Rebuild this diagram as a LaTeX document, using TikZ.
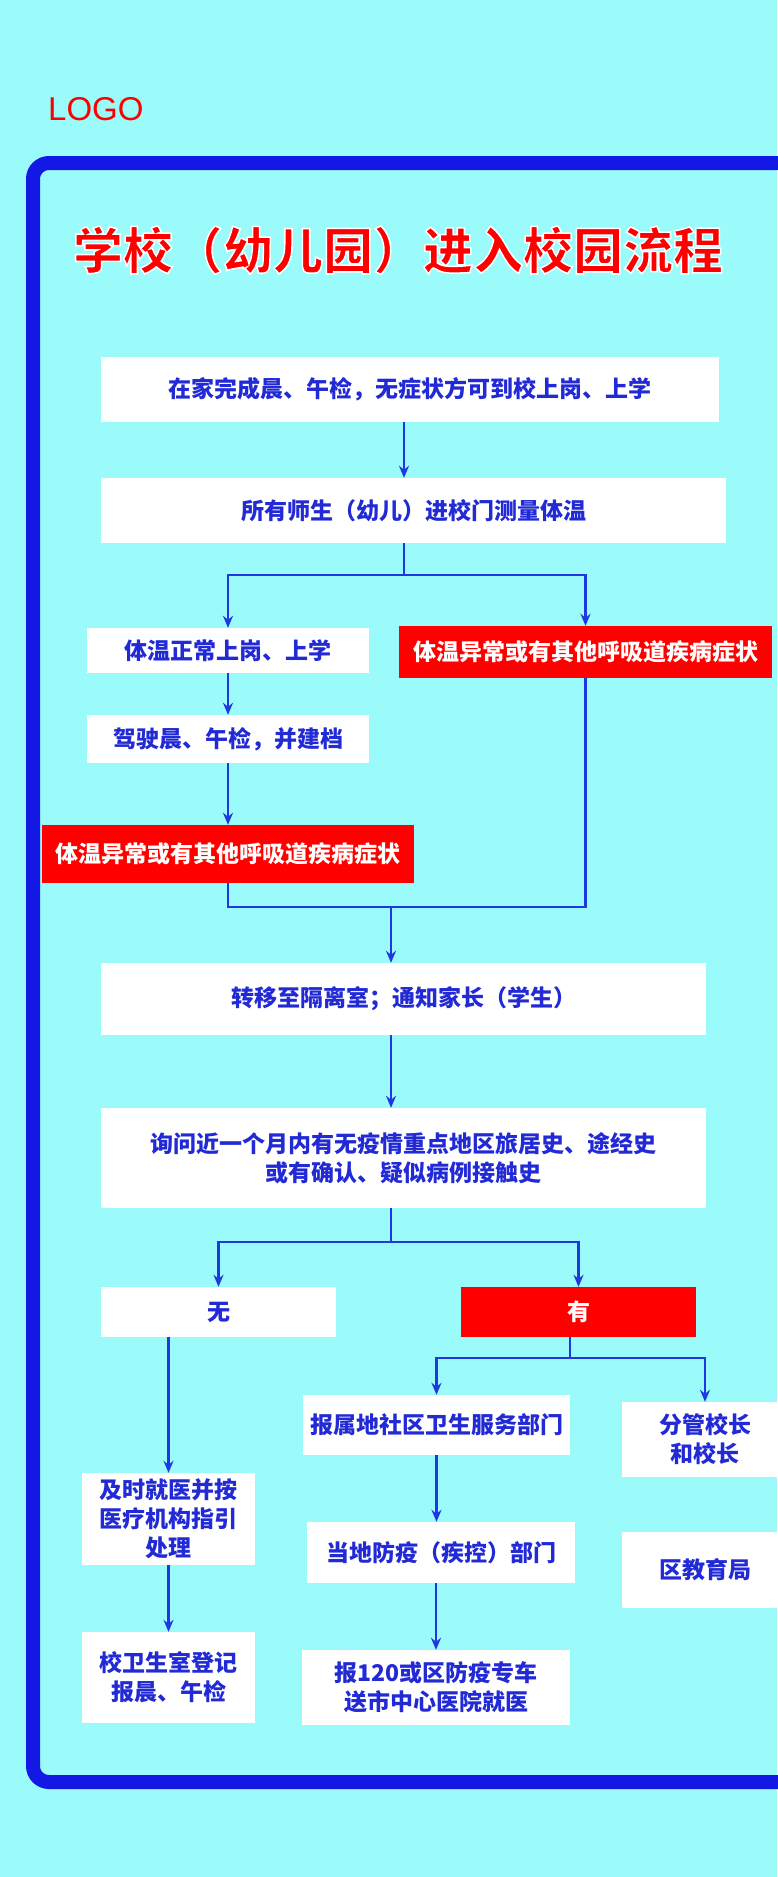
\documentclass[tikz,border=0pt]{standalone}
\usepackage{fontspec}
\setmainfont{Liberation Sans}
\newfontfamily\cjk{Noto Sans CJK SC}
\usepackage{xcolor}
\definecolor{bg}{RGB}{155,251,251}
\definecolor{rim}{RGB}{20,24,228}
\definecolor{ink}{RGB}{34,42,214}
\definecolor{wire}{RGB}{30,56,226}
\definecolor{alarm}{RGB}{255,0,0}
\usepackage{tikz}
\usetikzlibrary{arrows.meta}
\tikzstyle{box} = [
    rectangle, text centered, align=center,
    inner sep=0pt,
    font=\cjk\bfseries\fontsize{23}{29}\selectfont,
]
\tikzstyle{plain} = [
    box,
    fill=white,
    text=ink,
]
\tikzstyle{alert} = [
    box,
    fill=alarm,
    text=white,
]
\tikzstyle{heading} = [
    inner sep=0pt,
    font=\cjk\bfseries\fontsize{50}{60}\selectfont,
]
\tikzstyle{link} = [line width=2.5pt, draw=wire]
\tikzstyle{arrow} = [link, ->, >={Stealth[length=12pt,width=10pt]}]
% white rim round the heading glyphs
\newcommand{\rimtext}[1]{\special{pdf:literal q 2 Tr 1.5 w 1 1 1 RG}#1\special{pdf:literal Q}}

\begin{document}
\begin{tikzpicture}[x=1pt, y=-1pt]
    \useasboundingbox (0,0) rectangle (777,1877);
    \fill[bg] (0,0) rectangle (777,1877);

    % frame and heading
    \draw[rim, line width=14pt, rounded corners=16pt]
        (830,163) -- (33,163) -- (33,1782) -- (830,1782);
    \node (logo) at (48,120) [anchor=base west, inner sep=0pt, text=alarm,
        font=\fontsize{33}{36}\selectfont] {LOGO};
    \node (title) at (398,250) [heading, text=alarm] {\rimtext{学校（幼儿园）进入校园流程}};

    % boxes
    \node (home) at (410,389.5) [plain, minimum width=618pt, minimum height=65pt]
        {在家完成晨、午检，无症状方可到校上岗、上学};
    \node (gate) at (413.5,510.5) [plain, minimum width=625pt, minimum height=65pt]
        {所有师生（幼儿）进校门测量体温};
    \node (normal) at (228,650.5) [plain, minimum width=282pt, minimum height=45pt]
        {体温正常上岗、上学};
    \node (fever1) at (585.5,652) [alert, minimum width=373pt, minimum height=52pt]
        {体温异常或有其他呼吸道疾病症状};
    \node (check) at (228,739) [plain, minimum width=282pt, minimum height=48pt]
        {驾驶晨、午检，并建档};
    \node (fever2) at (228,854) [alert, minimum width=372pt, minimum height=58pt]
        {体温异常或有其他呼吸道疾病症状};
    \node (isolate) at (403.5,999) [plain, minimum width=605pt, minimum height=72pt]
        {转移至隔离室；通知家长（学生）};
    \node (ask) at (403.5,1158) [plain, minimum width=605pt, minimum height=100pt]
        {询问近一个月内有无疫情重点地区旅居史、途经史\\或有确认、疑似病例接触史};
    \node (no) at (218.5,1312) [plain, minimum width=235pt, minimum height=50pt] {无};
    \node (yes) at (578.5,1312) [alert, minimum width=235pt, minimum height=50pt] {有};
    \node (report) at (436.5,1425) [plain, minimum width=267pt, minimum height=60pt]
        {报属地社区卫生服务部门};
    \node (head) at (705,1439.5) [plain, minimum width=166pt, minimum height=75pt]
        {分管校长\\和校长};
    \node (clinic) at (168.5,1519) [plain, minimum width=173pt, minimum height=92pt]
        {及时就医并按\\医疗机构指引\\处理};
    \node (cdc) at (441,1552.5) [plain, minimum width=268pt, minimum height=61pt]
        {当地防疫（疾控）部门};
    \node (bureau) at (705,1570) [plain, minimum width=166pt, minimum height=76pt]
        {区教育局};
    \node (record) at (168.5,1677.5) [plain, minimum width=173pt, minimum height=91pt]
        {校卫生室登记\\报晨、午检};
    \node (hospital) at (436,1687.5) [plain, minimum width=268pt, minimum height=75pt]
        {报120或区防疫专车\\送市中心医院就医};

    % junctions
    \coordinate (split1) at (404,575);
    \coordinate (merge) at (391,907);
    \coordinate (split2) at (391,1242);
    \coordinate (split3) at (570,1358);

    % arrows
    \draw [arrow] (home.south -| split1) to (gate.north -| split1);
    \draw [link] (gate.south -| split1) to (split1);
    \draw [arrow] (split1) -| (normal.north);
    \draw [arrow] (split1) -| (fever1.north);
    \draw [arrow] (normal.south) to (check.north);
    \draw [arrow] (check.south) to (fever2.north);
    \draw [link] (fever2.south) |- (merge) -| (fever1.south);
    \draw [arrow] (merge) to (merge |- isolate.north);
    \draw [arrow] (isolate.south -| merge) to (ask.north -| merge);
    \draw [link] (ask.south -| split2) to (split2);
    \draw [arrow] (split2) -| (no.north);
    \draw [arrow] (split2) -| (yes.north);
    \draw [link] (yes.south -| split3) to (split3);
    \draw [arrow] (split3) -| (report.north);
    \draw [arrow] (split3) -| (head.north);
    \draw [arrow] (no.south -| clinic.north) to (clinic.north);
    \draw [arrow] (clinic.south) to (record.north);
    \draw [arrow] (report.south) to (report.south |- cdc.north);
    \draw [arrow] (cdc.south -| hospital.north) to (hospital.north);
\end{tikzpicture}
\end{document}
